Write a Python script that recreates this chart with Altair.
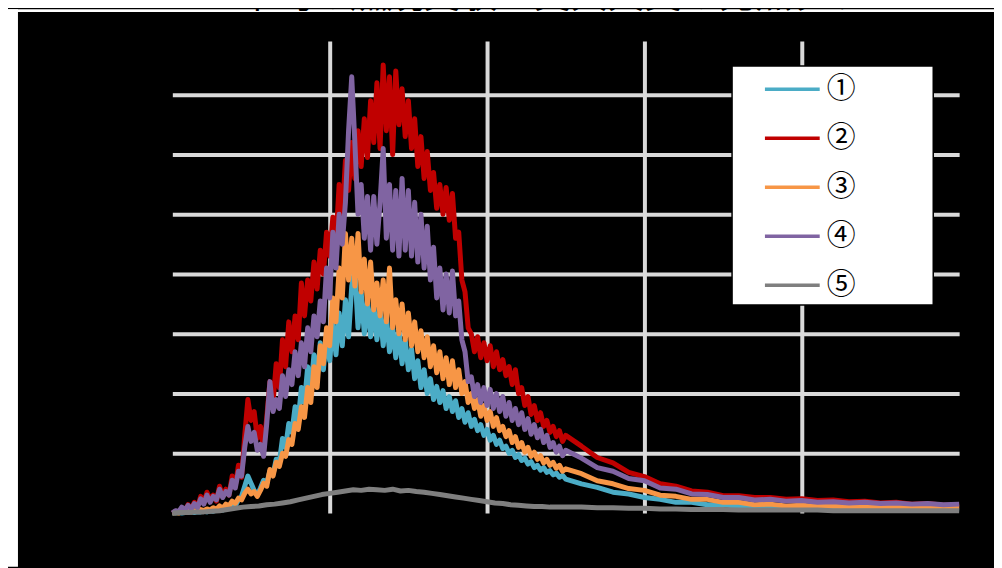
import altair as alt
import pandas as pd

TITLE = "平均の燃焼実験と実大火災の発熱グラフ"
SERIES = ["①", "②", "③", "④", "⑤"]
COLORS = ["#4bacc6", "#c00000", "#f79646", "#8064a2", "#7f7f7f"]

# sample times (x axis units), fine sampling 0..25 every 0.2, tail 26..50
T_FINE = [round(i * 0.2, 1) for i in range(126)]
T_TAIL = list(range(26, 51))
T_GRAY = [round(i * 0.5, 1) for i in range(51)] + T_TAIL

S1_FINE = [0.00, 0.00, 0.01, 0.00, 0.01, 0.01, 0.02, 0.01, 0.02, 0.02,
           0.03, 0.02, 0.04, 0.03, 0.05, 0.07, 0.05, 0.10, 0.08, 0.15,
           0.12, 0.22, 0.28, 0.45, 0.62, 0.50, 0.38, 0.30, 0.42, 0.55,
           0.50, 0.70, 0.65, 0.90, 0.85, 1.25, 1.10, 1.50, 1.35, 1.78,
           1.55, 2.10, 1.85, 2.45, 2.05, 2.65, 2.25, 2.85, 2.40, 3.00,
           2.55, 3.18, 2.65, 3.35, 2.80, 3.57, 2.95, 3.80, 4.07, 3.10,
           3.70, 3.00, 3.57, 2.95, 3.50, 2.90, 3.40, 2.80, 3.30, 2.70,
           3.12, 2.60, 3.05, 2.50, 2.90, 2.40, 2.75, 2.25, 2.55, 2.10,
           2.40, 2.00, 2.25, 1.90, 2.12, 1.85, 2.05, 1.75, 1.95, 1.70,
           1.88, 1.60, 1.75, 1.52, 1.68, 1.45, 1.57, 1.38, 1.48, 1.30,
           1.40, 1.22, 1.30, 1.15, 1.22, 1.08, 1.12, 1.00, 1.05, 0.93,
           0.98, 0.88, 0.92, 0.82, 0.86, 0.76, 0.80, 0.72, 0.76, 0.68,
           0.71, 0.64, 0.67, 0.60, 0.63, 0.57]
S1_TAIL = [0.49, 0.43, 0.35, 0.32, 0.26, 0.23, 0.18, 0.18, 0.14, 0.14,
           0.11, 0.11, 0.09, 0.10, 0.08, 0.09, 0.07, 0.08, 0.07, 0.08,
           0.07, 0.07, 0.06, 0.07, 0.07]

S2_FINE = [0.00, 0.03, 0.01, 0.08, 0.04, 0.14, 0.06, 0.18, 0.10, 0.28,
           0.16, 0.35, 0.22, 0.30, 0.20, 0.45, 0.28, 0.40, 0.30, 0.62,
           0.45, 0.80, 0.60, 1.30, 1.90, 1.55, 1.70, 1.25, 1.45, 1.05,
           1.60, 2.20, 1.85, 2.50, 2.10, 2.90, 2.45, 3.20, 2.70, 3.30,
           2.90, 3.85, 3.30, 3.90, 3.55, 4.20, 3.75, 4.40, 4.00, 4.70,
           4.30, 4.95, 4.55, 5.50, 5.00, 5.90, 5.40, 6.20, 5.60, 6.40,
           5.80, 6.60, 5.95, 6.90, 6.20, 7.20, 6.10, 7.50, 6.40, 7.30,
           6.00, 7.40, 6.50, 7.10, 6.30, 6.90, 6.10, 6.60, 5.80, 6.30,
           5.60, 6.05, 5.40, 5.70, 5.10, 5.50, 5.00, 5.45, 4.90, 5.35,
           4.60, 4.70, 3.90, 3.70, 3.10, 3.00, 2.70, 2.95, 2.60, 2.85,
           2.55, 2.80, 2.45, 2.70, 2.40, 2.57, 2.30, 2.45, 2.15, 2.40,
           2.00, 2.10, 1.80, 1.95, 1.65, 1.80, 1.55, 1.68, 1.45, 1.55,
           1.35, 1.45, 1.28, 1.38, 1.20, 1.30]
S2_TAIL = [1.12, 0.93, 0.84, 0.68, 0.61, 0.49, 0.45, 0.37, 0.35, 0.29,
           0.29, 0.26, 0.26, 0.23, 0.24, 0.21, 0.22, 0.19, 0.20, 0.17,
           0.18, 0.15, 0.16, 0.13, 0.13]

S3_FINE = [0.00, 0.01, 0.00, 0.02, 0.01, 0.03, 0.02, 0.04, 0.03, 0.06,
           0.04, 0.07, 0.05, 0.09, 0.06, 0.12, 0.08, 0.15, 0.12, 0.20,
           0.16, 0.25, 0.22, 0.33, 0.40, 0.32, 0.36, 0.28, 0.38, 0.50,
           0.45, 0.73, 0.62, 0.85, 0.78, 1.00, 0.95, 1.23, 1.15, 1.50,
           1.40, 1.78, 1.60, 2.10, 1.85, 2.45, 2.10, 2.80, 2.50, 3.10,
           2.80, 3.60, 3.20, 4.10, 3.60, 4.68, 3.90, 4.60, 3.80, 4.68,
           3.70, 4.25, 3.50, 4.20, 3.40, 3.85, 3.30, 3.90, 3.20, 4.10,
           3.10, 3.57, 3.00, 3.50, 2.90, 3.35, 2.80, 3.20, 2.70, 3.05,
           2.60, 2.95, 2.45, 2.80, 2.35, 2.70, 2.25, 2.60, 2.15, 2.55,
           2.10, 2.40, 2.00, 2.20, 1.85, 2.00, 1.75, 1.90, 1.62, 1.80,
           1.55, 1.70, 1.45, 1.60, 1.38, 1.45, 1.28, 1.38, 1.18, 1.28,
           1.10, 1.18, 1.02, 1.10, 0.95, 1.02, 0.90, 0.96, 0.84, 0.90,
           0.80, 0.85, 0.75, 0.80, 0.70, 0.74]
S3_TAIL = [0.66, 0.54, 0.49, 0.41, 0.38, 0.30, 0.28, 0.23, 0.23, 0.18,
           0.18, 0.14, 0.15, 0.12, 0.13, 0.11, 0.12, 0.10, 0.12, 0.10,
           0.11, 0.09, 0.10, 0.10, 0.10]

S4_FINE = [0.00, 0.04, 0.02, 0.10, 0.05, 0.13, 0.07, 0.16, 0.09, 0.24,
           0.15, 0.30, 0.18, 0.28, 0.22, 0.40, 0.26, 0.36, 0.30, 0.55,
           0.42, 0.70, 0.62, 1.10, 1.45, 1.20, 1.35, 1.05, 1.15, 0.95,
           1.50, 2.20, 1.70, 1.90, 1.75, 2.30, 1.95, 2.40, 2.15, 2.70,
           2.30, 2.85, 2.45, 3.10, 2.70, 3.30, 2.95, 3.55, 3.20, 4.10,
           3.60, 4.70, 4.10, 5.00, 4.50, 5.20, 6.40, 7.30, 6.20, 5.00,
           5.50, 4.60, 5.30, 4.40, 5.30, 4.50, 5.20, 6.10, 4.60, 5.50,
           4.40, 5.40, 4.30, 5.60, 4.40, 5.40, 4.30, 5.20, 4.20, 5.00,
           4.10, 4.80, 3.90, 4.45, 3.60, 4.10, 3.40, 4.00, 3.35, 4.05,
           3.30, 3.55, 2.90, 2.70, 2.20, 2.28, 1.95, 2.15, 1.85, 2.10,
           1.80, 2.07, 1.75, 2.00, 1.70, 1.95, 1.62, 1.85, 1.55, 1.75,
           1.48, 1.68, 1.40, 1.58, 1.32, 1.48, 1.26, 1.40, 1.18, 1.30,
           1.10, 1.18, 1.02, 1.12, 0.96, 1.05]
S4_TAIL = [0.92, 0.76, 0.70, 0.58, 0.54, 0.42, 0.40, 0.32, 0.31, 0.26,
           0.26, 0.22, 0.23, 0.20, 0.21, 0.18, 0.19, 0.17, 0.18, 0.16,
           0.17, 0.15, 0.16, 0.14, 0.15]

S5_VALS = [0.00, 0.01, 0.01, 0.02, 0.02, 0.03, 0.04, 0.06, 0.08, 0.10,
           0.11, 0.12, 0.14, 0.15, 0.17, 0.19, 0.22, 0.25, 0.28, 0.31,
           0.33, 0.35, 0.37, 0.39, 0.38, 0.40, 0.39, 0.38, 0.40, 0.37,
           0.38, 0.36, 0.35, 0.33, 0.31, 0.29, 0.27, 0.25, 0.23, 0.21,
           0.19, 0.17, 0.16, 0.14, 0.13, 0.12, 0.11, 0.11, 0.10, 0.10,
           0.10,
           0.10, 0.09, 0.09, 0.08, 0.08, 0.07, 0.07, 0.06, 0.06, 0.06,
           0.05, 0.05, 0.05, 0.05, 0.05, 0.05, 0.04, 0.04, 0.04, 0.04,
           0.04, 0.04, 0.04, 0.04, 0.04]

rows = []
for name, ts, vs in [
    (SERIES[0], T_FINE + T_TAIL, S1_FINE + S1_TAIL),
    (SERIES[1], T_FINE + T_TAIL, S2_FINE + S2_TAIL),
    (SERIES[2], T_FINE + T_TAIL, S3_FINE + S3_TAIL),
    (SERIES[3], T_FINE + T_TAIL, S4_FINE + S4_TAIL),
    (SERIES[4], T_GRAY, S5_VALS),
]:
    for t, v in zip(ts, vs):
        rows.append({"t": t, "v": v, "s": name})
df = pd.DataFrame(rows)

one = pd.DataFrame({"k": [0]})
title_df = pd.DataFrame({"title": [TITLE]})

GRID = "#d9d9d9"

lines = alt.Chart(df).mark_line(strokeJoin="round", strokeWidth=5).encode(
    x=alt.X("t:Q", scale=alt.Scale(domain=[0, 50], nice=False),
            axis=alt.Axis(values=[10, 20, 30, 40], grid=True, labels=False, ticks=False,
                          domain=False, title=None, gridColor=GRID, gridWidth=4)),
    y=alt.Y("v:Q", scale=alt.Scale(domain=[0, 7.9], nice=False),
            axis=alt.Axis(values=[1, 2, 3, 4, 5, 6, 7], grid=True, labels=False, ticks=False,
                          domain=False, title=None, gridColor=GRID, gridWidth=4)),
    color=alt.Color("s:N", scale=alt.Scale(domain=SERIES, range=COLORS),
                    legend=alt.Legend(orient="none", legendX=607, legendY=33, title=None,
                                      symbolType="M-2,0H2", symbolSize=756,
                                      symbolStrokeWidth=3.5, labelFont="Noto Sans CJK JP",
                                      labelFontSize=29, labelColor="black", labelOffset=19,
                                      rowPadding=18.2, padding=0, direction="vertical")),
)

left_stripe = alt.Chart(one).mark_rect(color="white").encode(
    x=alt.value(-165), x2=alt.value(-155), y=alt.value(-32), y2=alt.value(528))
top_stripe = alt.Chart(one).mark_rect(color="white").encode(
    x=alt.value(-165), x2=alt.value(825), y=alt.value(-32), y2=alt.value(-29))
title = alt.Chart(title_df).mark_text(font="Noto Sans CJK JP", fontSize=37, color="black",
                                      align="center", baseline="alphabetic").encode(
    x=alt.value(400), y=alt.value(-33), text="title:N")
legend_box = alt.Chart(one).mark_rect(fill="white", stroke="black", strokeWidth=1.5).encode(
    x=alt.value(562), x2=alt.value(764), y=alt.value(25), y2=alt.value(265))

chart = alt.layer(left_stripe, top_stripe, title, lines, legend_box).properties(
    width=790, height=474,
    autosize=alt.AutoSizeParams(type="none"),
    padding={"left": 165, "top": 32, "right": 35, "bottom": 54},
    background="black",
).configure_view(strokeWidth=0, fill="black")

chart.save("out.html", embed_options={"renderer": "svg", "actions": False})
